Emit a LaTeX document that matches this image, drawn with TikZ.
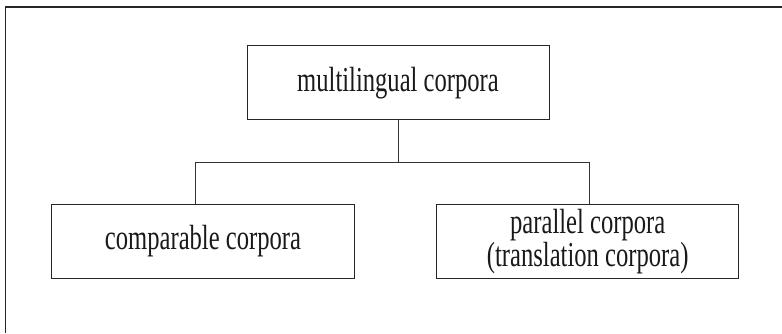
\documentclass[tikz,border=0pt]{standalone}
\usepackage{fontspec}
\setmainfont{Liberation Serif}
\newfontfamily\condserif[FakeStretch=0.703]{Liberation Serif}
\begin{document}
\begin{tikzpicture}[x=1bp,y=-1bp,
  box/.style={draw=black!85,line width=1bp,inner sep=0pt,align=center,
    font=\condserif\fontsize{35bp}{28.7bp}\selectfont,text=black!90},
  conn/.style={draw=black!80,line width=1bp}]
\useasboundingbox (0,0) rectangle (782,333);
\draw[black!85,line width=1.4bp] (5.7,333) -- (5.7,7) -- (782,7);
\node[box,minimum width=302bp,minimum height=74bp] (top) at (398,82.7) {multilingual corpora};
\node[box,minimum width=302.5bp,minimum height=74.5bp] (left) at (203,241.3) {comparable corpora};
\node[box,minimum width=302bp,minimum height=74.5bp] (right) at (587.7,241.3) {parallel corpora\\(translation corpora)};
\coordinate (j) at (398,162.3);
\coordinate (jl) at (195,162.3);
\coordinate (jr) at (589,162.3);
\draw[conn] (top.south) -- (j);
\draw[conn] (jl) -- (jr);
\draw[conn] (jl) -- (jl |- left.north);
\draw[conn] (jr) -- (jr |- right.north);
\end{tikzpicture}
\end{document}
